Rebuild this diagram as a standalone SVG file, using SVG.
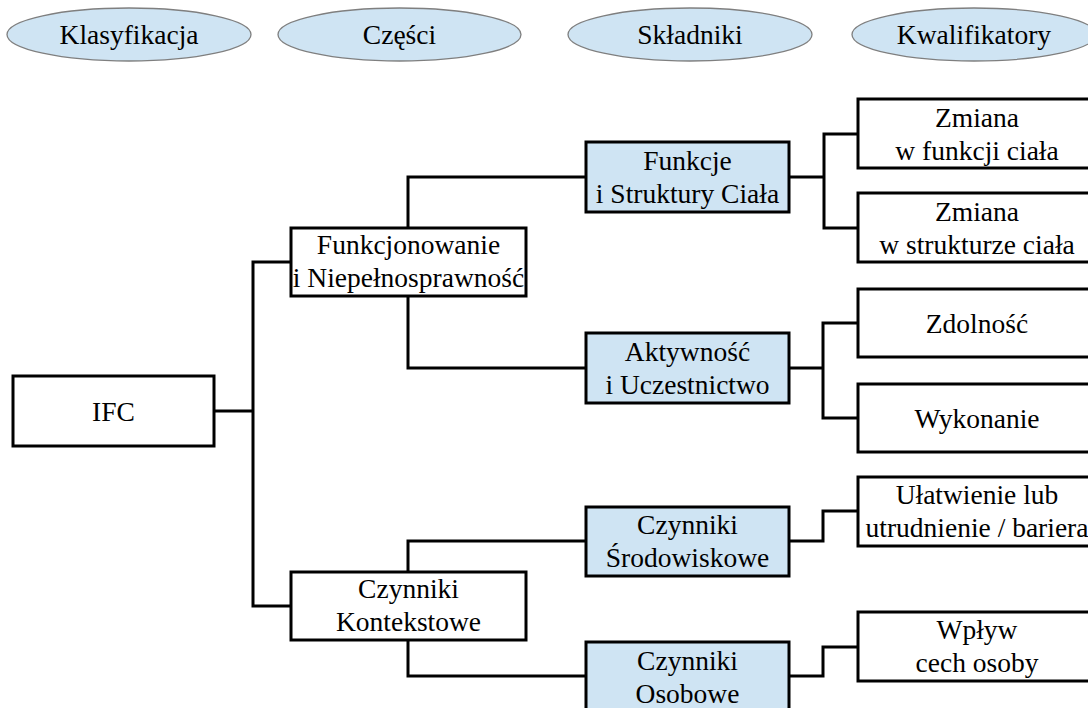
<svg xmlns="http://www.w3.org/2000/svg" width="1088" height="708" viewBox="0 0 1088 708">
<style>
text{font-family:"Liberation Serif",Tinos,"Times New Roman",Times,"DejaVu Serif",serif;font-size:27.5px;fill:#000;text-anchor:middle}
.hdr{fill:#cfe4f3;stroke:#7f7f7f;stroke-width:1.3}
.box{fill:#fff;stroke:#000;stroke-width:3}
.blue{fill:#cfe4f3;stroke:#000;stroke-width:3}
.conn{fill:none;stroke:#000;stroke-width:3;stroke-linejoin:miter;stroke-linecap:square}
</style>
<rect width="1088" height="708" fill="#fff"/>
<g id="headers" font-family="Liberation Serif, serif">
<g id="h-klasyfikacja"><ellipse class="hdr" cx="129" cy="34.5" rx="122" ry="26.5"/><text x="129" y="44">Klasyfikacja</text></g>
<g id="h-czesci"><ellipse class="hdr" cx="399.5" cy="34.5" rx="121.5" ry="26.5"/><text x="399.5" y="44">Części</text></g>
<g id="h-skladniki"><ellipse class="hdr" cx="690" cy="34.5" rx="122" ry="26.5"/><text x="690" y="44">Składniki</text></g>
<g id="h-kwalifikatory"><ellipse class="hdr" cx="974" cy="34.5" rx="122" ry="26.5"/><text x="974" y="44">Kwalifikatory</text></g>
</g>
<g id="connectors">
<path class="conn" d="M214 411H253M253 262V606M253 262H291M253 606H291"/>
<path class="conn" d="M408 228V177H586M408 296V368H586"/>
<path class="conn" d="M408 572V541H586M408 640V676H586"/>
<path class="conn" d="M789 177H824M824 134V228M824 134H858M824 228H858"/>
<path class="conn" d="M789 368H823M823 323V418M823 323H858M823 418H858"/>
<path class="conn" d="M789 541H823V511H858"/>
<path class="conn" d="M789 676H823V647H858"/>
</g>
<g id="n-ifc"><rect class="box" x="13" y="376" width="201" height="70"/><text x="113.5" y="421">IFC</text></g>
<g id="n-funkcjonowanie"><rect class="box" x="291" y="228" width="235" height="68"/><text x="408.5" y="254">Funkcjonowanie</text><text x="408.5" y="287">i Niepełnosprawność</text></g>
<g id="n-kontekstowe"><rect class="box" x="291" y="572" width="235" height="68"/><text x="408.5" y="598">Czynniki</text><text x="408.5" y="631">Kontekstowe</text></g>
<g id="n-funkcje"><rect class="blue" x="586" y="142" width="203" height="70"/><text x="687.5" y="169.5">Funkcje</text><text x="687.5" y="202.5">i Struktury Ciała</text></g>
<g id="n-aktywnosc"><rect class="blue" x="586" y="333" width="203" height="70"/><text x="687.5" y="360.5">Aktywność</text><text x="687.5" y="393.5">i Uczestnictwo</text></g>
<g id="n-srodowiskowe"><rect class="blue" x="586" y="507" width="203" height="69"/><text x="687.5" y="534">Czynniki</text><text x="687.5" y="567">Środowiskowe</text></g>
<g id="n-osobowe"><rect class="blue" x="586" y="642" width="203" height="70"/><text x="687.5" y="669.5">Czynniki</text><text x="687.5" y="702.5">Osobowe</text></g>
<g id="n-zm-funkcji"><rect class="box" x="858" y="99" width="238" height="69"/><text x="977" y="126.5">Zmiana</text><text x="977" y="159.5">w funkcji ciała</text></g>
<g id="n-zm-struktury"><rect class="box" x="858" y="193" width="238" height="69"/><text x="977" y="220.5">Zmiana</text><text x="977" y="253.5">w strukturze ciała</text></g>
<g id="n-zdolnosc"><rect class="box" x="858" y="289" width="238" height="68"/><text x="977" y="332.5">Zdolność</text></g>
<g id="n-wykonanie"><rect class="box" x="858" y="384" width="238" height="68"/><text x="977" y="427.5">Wykonanie</text></g>
<g id="n-ulatwienie"><rect class="box" x="858" y="477" width="238" height="69"/><text x="977" y="504">Ułatwienie lub</text><text x="977" y="537">utrudnienie / bariera</text></g>
<g id="n-wplyw"><rect class="box" x="858" y="612" width="238" height="69"/><text x="977" y="639">Wpływ</text><text x="977" y="672">cech osoby</text></g>
</svg>
